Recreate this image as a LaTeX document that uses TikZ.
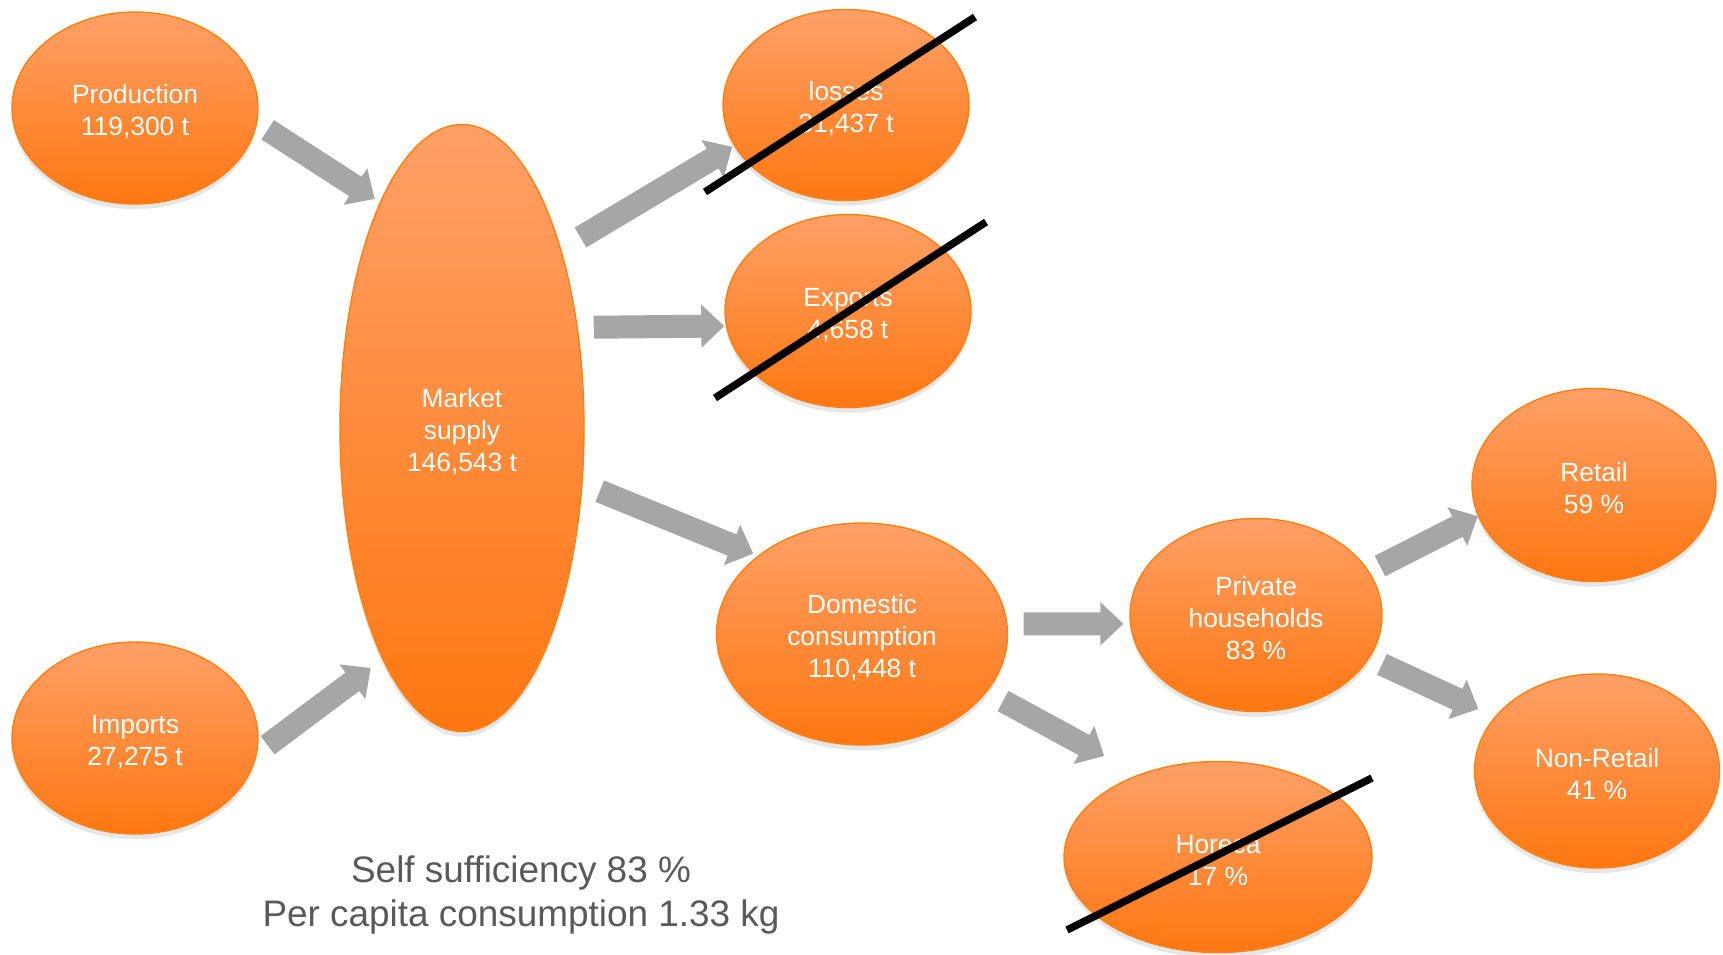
\documentclass[tikz,border=0pt]{standalone}
\usepackage{fontspec}
\setmainfont{Liberation Sans}
\usetikzlibrary{arrows.meta,shapes.geometric,shadows}

\definecolor{orangetop}{HTML}{FFA067}
\definecolor{orangebot}{HTML}{FF7711}
\definecolor{orangeline}{HTML}{FF8010}
\definecolor{flowgray}{HTML}{A6A6A6}
\definecolor{notegray}{HTML}{595959}
\newcommand{\bubstrut}{\rule{0pt}{14.8pt}}

\begin{document}
\begin{tikzpicture}[x=0.02cm, y=-0.02cm,
  bubble/.style={ellipse, draw=orangeline, line width=0.8pt, top color=orangetop, bottom color=orangebot,
    text=white, align=center, inner sep=0pt, font=\fontsize{15}{18.2}\selectfont,
    drop shadow={shadow xshift=0pt, shadow yshift=-3pt, opacity=0.2}},
  flow/.style={draw=flowgray, line width=0.46cm, -{Triangle[width=0.84cm,length=0.46cm]}},
  strike/.style={draw=black, line width=0.15cm}]
 \useasboundingbox (0,0) rectangle (1723,954);

	% Supply side
 \node[bubble, minimum width=4.92cm, minimum height=3.84cm] (prod) at (135,108) {\bubstrut Production\\119,300 t};
 \node[bubble, minimum width=4.92cm, minimum height=3.84cm] (imp) at (135,738) {\bubstrut Imports\\27,275 t};
 \node[bubble, minimum width=4.88cm, minimum height=12.14cm] (mkt) at (462,428) {\bubstrut Market\\supply\\146,543 t};

	% Uses
 \node[bubble, minimum width=4.92cm, minimum height=3.82cm] (loss) at (846,105) {\bubstrut losses\\31,437 t};
 \node[bubble, minimum width=4.92cm, minimum height=3.86cm] (exp) at (848,311) {\bubstrut Exports\\4,658 t};
 \node[bubble, minimum width=5.82cm, minimum height=4.44cm] (dom) at (862,634) {\bubstrut Domestic\\consumption\\110,448 t};
 \node[bubble, minimum width=5.04cm, minimum height=3.86cm] (hh) at (1256,615) {\bubstrut Private\\households\\83 \%};
 \node[bubble, minimum width=6.16cm, minimum height=3.82cm] (hor) at (1218,857) {\bubstrut Horeca\\17 \%};
 \node[bubble, minimum width=4.88cm, minimum height=3.86cm] (ret) at (1594,485) {\bubstrut Retail\\59 \%};
 \node[bubble, minimum width=4.90cm, minimum height=3.88cm] (nret) at (1597,771) {\bubstrut Non-Retail\\41 \%};

	% Flows
 \draw[flow, shorten <=0.25cm, shorten >=0.12cm] (prod.-7) -- (mkt.110.6);
 \draw[flow, shorten <=0.26cm, shorten >=0.29cm] (imp.-7.1) -- (mkt.-109.4);
 \draw[flow, shorten <=0.45cm, shorten >=0.04cm] (mkt.61.7) -- (loss.-160.8);
 \draw[flow, shorten <=0.32cm, shorten >=0.03cm] (mkt.41.6) -- (exp.-173);
 \draw[flow, shorten <=0.37cm, shorten >=0.10cm] (mkt.-25) -- (dom.143.6);
 \draw[flow, shorten <=0.32cm, shorten >=0.13cm] (dom.4.8) -- (hh.-176.8);
 \draw[flow, shorten <=0.37cm, shorten >=0.78cm] (dom.-25.1) -- (hor.134.9);
 \draw[flow, shorten <=0.24cm] (hh.21.2) -- (ret.-165);
 \draw[flow, shorten <=0.28cm, shorten >=0.36cm] (hh.-21.5) -- (nret.152.4);

	% Crossed out
 \draw[strike] ([shift={(-141,87)}]loss.center) -- ([shift={(129,-88)}]loss.center);
 \draw[strike] ([shift={(-133,87)}]exp.center) -- ([shift={(138,-89)}]exp.center);
 \draw[strike] ([shift={(-151,73)}]hor.center) -- ([shift={(154,-79)}]hor.center);

	% Key figures
 \node[align=center, text=notegray, font=\fontsize{21}{25.5}\selectfont] (note) at (521,895)
  {Self sufficiency 83 \%\\Per capita consumption 1.33 kg};

\end{tikzpicture}
\end{document}
